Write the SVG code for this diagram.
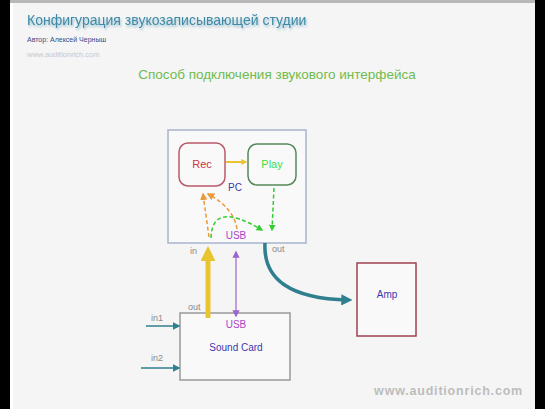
<svg xmlns="http://www.w3.org/2000/svg" width="545" height="409" viewBox="0 0 545 409">
<style>
text{font-family:"Liberation Sans",Arial,sans-serif}
.lbl{font-size:10px;fill:#3a3ab0;text-anchor:middle}
.small{font-size:9px;fill:#8a8a8a}
</style>
<defs>
<filter id="sh" x="-5%" y="-40%" width="110%" height="180%"><feDropShadow dx="1" dy="2" stdDeviation="1.2" flood-color="#5a9db8" flood-opacity="0.6"/></filter>
<marker id="aYel" viewBox="0 0 10 10" refX="6" refY="5" markerWidth="3" markerHeight="3" orient="auto"><path d="M0,0L10,5L0,10z" fill="#e8c430"/></marker>
<marker id="aOr" viewBox="0 0 10 10" refX="8" refY="5" markerWidth="5" markerHeight="5" orient="auto"><path d="M0,0L10,5L0,10z" fill="#e99a3a"/></marker>
<marker id="aGr" viewBox="0 0 10 10" refX="8" refY="5" markerWidth="4.5" markerHeight="4.5" orient="auto"><path d="M0,0L10,5L0,10z" fill="#33cc33"/></marker>
<marker id="aPu" viewBox="0 0 10 10" refX="8" refY="5" markerWidth="6" markerHeight="6" orient="auto-start-reverse"><path d="M0,0L10,5L0,10z" fill="#9966cc"/></marker>
<marker id="aTe" viewBox="0 0 10 10" refX="6" refY="5" markerWidth="3.2" markerHeight="3.2" orient="auto"><path d="M0,0L10,5L0,10z" fill="#2f7f8f"/></marker>
<marker id="aTe2" viewBox="0 0 10 10" refX="8" refY="5" markerWidth="5" markerHeight="5" orient="auto"><path d="M0,0L10,5L0,10z" fill="#2f7f8f"/></marker>
</defs>
<rect width="545" height="409" fill="#f5f5f5"/>
<rect x="0" y="0" width="545" height="3" fill="#b8b8b8"/>
<rect x="0" y="0" width="10" height="409" fill="#000"/>
<rect x="535" y="0" width="10" height="409" fill="#000"/>
<rect x="10" y="3" width="3" height="406" fill="#ffffff"/>

<g id="header">
<text x="27" y="25" font-size="14" fill="#3f8aa6" filter="url(#sh)">Конфигурация звукозаписывающей студии</text>
<text x="27" y="42" font-size="7" fill="#3a4a8a">Автор: Алексей Черныш</text>
<text x="27" y="57" font-size="7.5" fill="#c8c8c8">www.auditionrich.com</text>
<text x="277" y="79" font-size="13.5" fill="#70bb4c" text-anchor="middle">Способ подключения звукового интерфейса</text>
</g>

<g id="pc">
<rect x="168" y="130" width="138" height="113" fill="#f9f9f9" stroke="#a8b4cc" stroke-width="1.5"/>
<text x="235" y="191" class="lbl">PC</text>
<text x="236" y="239" font-size="10" fill="#aa44cc" text-anchor="middle">USB</text>
<text x="190" y="254" class="small">in</text>
<text x="272" y="252" class="small">out</text>
</g>
<g id="rec">
<rect x="179" y="143" width="46" height="43" rx="9" fill="#f9f9f9" stroke="#b85a6a" stroke-width="1.5"/>
<text x="202" y="168" font-size="11" fill="#cc3344" text-anchor="middle">Rec</text>
</g>
<g id="play">
<rect x="248" y="144" width="48" height="41" rx="9" fill="#f9f9f9" stroke="#55885a" stroke-width="1.5"/>
<text x="272" y="168" font-size="11" fill="#44dd44" text-anchor="middle">Play</text>
</g>
<g id="soundcard">
<rect x="180" y="313" width="110" height="67" fill="#f9f9f9" stroke="#999" stroke-width="1.5"/>
<text x="236" y="328" font-size="10" fill="#aa44cc" text-anchor="middle">USB</text>
<text x="236" y="351" class="lbl">Sound Card</text>
<text x="188" y="310" class="small">out</text>
<text x="151" y="321" class="small">in1</text>
<text x="151" y="361" class="small">in2</text>
</g>
<g id="amp">
<rect x="357" y="263" width="59" height="73" fill="#f9f9f9" stroke="#a04050" stroke-width="1.5"/>
<text x="387" y="298" class="lbl">Amp</text>
</g>
<g id="connectors" fill="none">
<path d="M226,162 L245,162" stroke="#e8c430" stroke-width="2" marker-end="url(#aYel)"/>
<path d="M209,237 L203,194" stroke="#e99a3a" stroke-width="1.5" stroke-dasharray="4,2.5" marker-end="url(#aOr)"/>
<path d="M237,229 Q234,208 208,194" stroke="#e99a3a" stroke-width="1.5" stroke-dasharray="4,2.5" marker-end="url(#aOr)"/>
<path d="M274,188 L272,230" stroke="#33cc33" stroke-width="1.5" stroke-dasharray="4,2.5" marker-end="url(#aGr)"/>
<path d="M211,238 Q212,200 262,230" stroke="#33cc33" stroke-width="1.5" stroke-dasharray="4,2.5" marker-end="url(#aGr)"/>
<path d="M208,318 L208,252" stroke="#e8c430" stroke-width="5" marker-end="url(#aYel)"/>
<path d="M236,252 L236,316" stroke="#9966cc" stroke-width="1.2" marker-start="url(#aPu)" marker-end="url(#aPu)"/>
<path d="M265,243 Q262,298 348,300" stroke="#2f7f8f" stroke-width="3.5" marker-end="url(#aTe)"/>
<path d="M146,326 L179,326" stroke="#2f7f8f" stroke-width="1.5" marker-end="url(#aTe2)"/>
<path d="M141,368 L179,368" stroke="#2f7f8f" stroke-width="1.5" marker-end="url(#aTe2)"/>
</g>
<text x="523" y="395" font-size="12.5" font-weight="bold" fill="#bdbdbd" text-anchor="end" letter-spacing="0.8">www.auditionrich.com</text>
</svg>
